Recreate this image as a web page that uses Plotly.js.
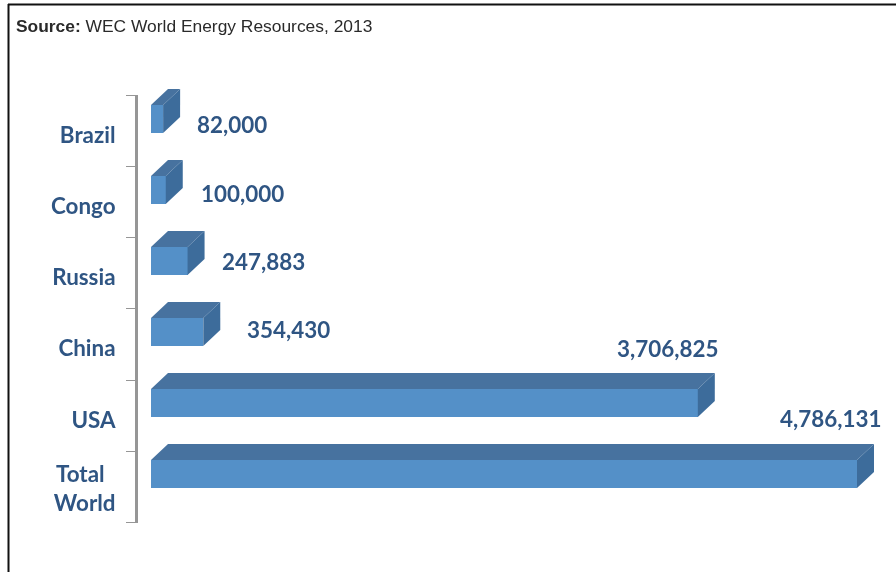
<!DOCTYPE html>
<html>
<head>
<meta charset="utf-8">
<script src="https://cdn.plot.ly/plotly-3.0.1.min.js"></script>
<style>html,body{margin:0;padding:0;background:#fff}#chart{width:896px;height:572px;filter:blur(0.4px)}</style>
</head>
<body>
<div id="chart"></div>
<script>
var categories = ['Brazil', 'Congo', 'Russia', 'China', 'USA', 'Total&nbsp;&nbsp;<br>World'];
var values = [82000, 100000, 247883, 354430, 3706825, 4786131];
var valueLabels = ['82,000', '100,000', '247,883', '354,430', '3,706,825', '4,786,131'];
var sourceText = '<b>Source:</b> WEC World Energy Resources, 2013';

var W = 896, H = 572;
var plotLeft = 138;          // axis line x, px
var zeroPx = 151;            // bars start, px
var pxPerUnit = 706 / 4786131;
var depthX = 17 / pxPerUnit; // 3-D depth in value units
var slotPx = 71;             // bar spacing, px
var frontPx = 28;            // bar thickness, px
var firstCentrePx = 119;     // centre of the first bar's front face
var barTop = 60, barBottom = 540; // extent of the bar axis, px
var depthY = 16 / slotPx;
var halfFront = frontPx / slotPx / 2;
var positions = categories.map(function (_, i) { return i; });

var faceFront = '#5490c8', faceTop = '#47729f', faceSide = '#3d6c9b';
var ink = '#2f5583';

var traces = [];
values.forEach(function (v, i) {
  var t = i - halfFront, b = i + halfFront;
  traces.push({
    type: 'scatter', mode: 'lines', fill: 'toself', fillcolor: faceTop, line: {width: 0},
    x: [0, depthX, v + depthX, v, 0], y: [t, t - depthY, t - depthY, t, t],
    hoverinfo: 'skip', showlegend: false, xaxis: 'x', yaxis: 'y'
  });
  traces.push({
    type: 'scatter', mode: 'lines', fill: 'toself', fillcolor: faceSide, line: {width: 0},
    x: [v, v + depthX, v + depthX, v, v], y: [t, t - depthY, b - depthY, b, t],
    hoverinfo: 'skip', showlegend: false, xaxis: 'x', yaxis: 'y'
  });
});
traces.push({
  type: 'bar', orientation: 'h', x: values, y: positions, width: frontPx / slotPx,
  marker: {color: faceFront, line: {width: 0}}, hoverinfo: 'x', showlegend: false,
  xaxis: 'x', yaxis: 'y'
});
// carries the category axis
traces.push({
  type: 'scatter', mode: 'markers', x: values, y: positions, marker: {opacity: 0, size: 1},
  hoverinfo: 'skip', showlegend: false, xaxis: 'x', yaxis: 'y2'
});

// placement of the hand-set value labels: px right of bar end, px above bar centre
var labelShift = [[69, -5], [77, -3], [76, 0], [85, 3], [-30, 55], [-27, 56]];
var annotations = values.map(function (v, i) {
  return {
    x: v, y: i, xref: 'x', yref: 'y', text: '<b>' + valueLabels[i] + '</b>', showarrow: false,
    xanchor: 'center', yanchor: 'middle', xshift: labelShift[i][0], yshift: labelShift[i][1],
    font: {family: 'Lato, sans-serif', size: 22.4, color: ink}
  };
});
annotations.push({
  xref: 'paper', yref: 'paper', x: 14 / W, y: 1 - 26 / H, xanchor: 'left', yanchor: 'middle',
  showarrow: false, text: sourceText, align: 'left',
  font: {family: 'Liberation Sans, Arial, sans-serif', size: 17.4, color: '#2a2a2a'}
});

var xMin = (plotLeft - zeroPx) / pxPerUnit;
var xMax = (W - zeroPx) / pxPerUnit;
function yVal(px) { return (px - firstCentrePx) / slotPx; }

var layout = {
  width: W, height: H, margin: {l: 0, r: 0, t: 0, b: 0, pad: 0},
  paper_bgcolor: '#fff', plot_bgcolor: 'rgba(0,0,0,0)', showlegend: false, bargap: 0,
  xaxis: {domain: [plotLeft / W, 1], range: [xMin, xMax], visible: false, fixedrange: true, anchor: 'y'},
  yaxis: {domain: [1 - barBottom / H, 1 - barTop / H], range: [yVal(barBottom), yVal(barTop)],
          visible: false, fixedrange: true, anchor: 'x'},
  yaxis2: {
    domain: [1 - 522.5 / H, 1 - 95 / H], range: [5.5, -0.5], anchor: 'x', side: 'left',
    tickmode: 'array',
    tickvals: positions.map(function (i) { return i + (categories[i].indexOf('<br>') >= 0 ? 0.02 : 0.06); }),
    ticktext: categories.map(function (c) { return '<b>' + c.replace('<br>', '</b><br><b>') + '</b>'; }),
    ticks: '', ticklen: 0, ticklabelstandoff: 15, showgrid: false, zeroline: false, fixedrange: true,
    showline: true, linecolor: '#969696', linewidth: 3,
    tickfont: {family: 'Lato, sans-serif', size: 22.4, color: ink},
    minor: {tickmode: 'array', tickvals: [-0.5, 0.5, 1.5, 2.5, 3.5, 4.5, 5.5], ticks: 'outside', ticklen: 9, tickwidth: 1, tickcolor: '#969696', showgrid: false}
  },
  annotations: annotations,
  shapes: [
    {type: 'line', xref: 'paper', yref: 'paper', x0: 8.5 / W, x1: 8.5 / W, y0: 0, y1: 1 - 4 / H, line: {color: '#111', width: 2}},
    {type: 'line', xref: 'paper', yref: 'paper', x0: 8 / W, x1: 1, y0: 1 - 4.5 / H, y1: 1 - 4.5 / H, line: {color: '#111', width: 2}}
  ]
};
Plotly.newPlot('chart', traces, layout, {displayModeBar: false, staticPlot: true});
</script>
</body>
</html>
